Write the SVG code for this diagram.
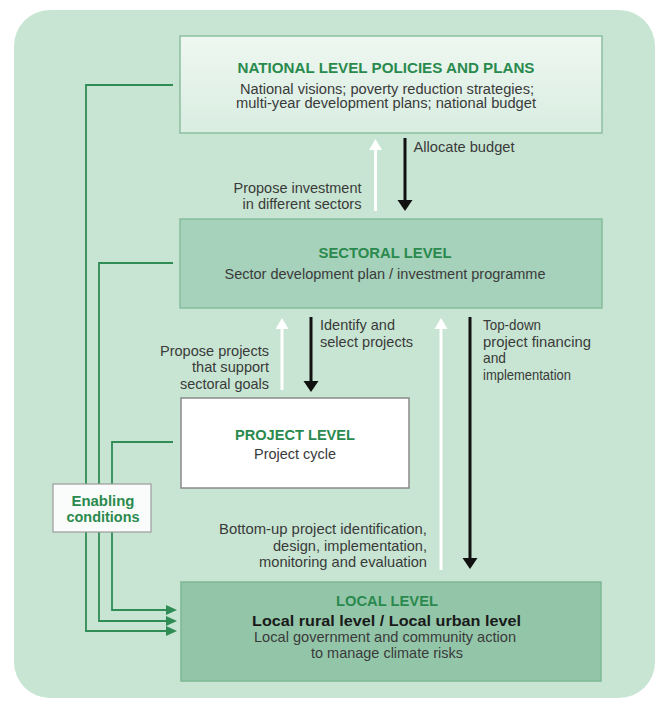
<svg xmlns="http://www.w3.org/2000/svg" width="663" height="704" viewBox="0 0 663 704">
<style>
.t{font-family:"Liberation Sans Narrow","Liberation Sans",Arial,sans-serif;font-size:15px;fill:#3a3a3a}
.s{font-family:"Liberation Sans Narrow","Liberation Sans",Arial,sans-serif;font-size:14px;fill:#3a3a3a}
.h{font-family:"Liberation Sans Narrow","Liberation Sans",Arial,sans-serif;font-size:14.5px;font-weight:bold;fill:#2a8a4e}
.b{font-family:"Liberation Sans Narrow","Liberation Sans",Arial,sans-serif;font-size:15px;font-weight:bold;fill:#1a1a1a}
.g{fill:none;stroke:#2f8c55;stroke-width:1.8}
.w{fill:none;stroke:#ffffff;stroke-width:3}
.k{fill:none;stroke:#111111;stroke-width:3}
</style>
<defs>
<linearGradient id="natg" x1="0" y1="0" x2="0" y2="1">
<stop offset="0" stop-color="#eef7f1"/>
<stop offset="1" stop-color="#d9ede1"/>
</linearGradient>
<marker id="ag" viewBox="0 -5 11 10" refX="2" refY="0" markerWidth="11" markerHeight="10" markerUnits="userSpaceOnUse" orient="auto">
<path d="M0,-5 L11,0 L0,5 z" fill="#2f8c55"/>
</marker>
<marker id="aw" viewBox="0 -7 11 14" refX="2" refY="0" markerWidth="11" markerHeight="14" markerUnits="userSpaceOnUse" orient="auto">
<path d="M0,-6.5 L11,0 L0,6.5 z" fill="#ffffff"/>
</marker>
<marker id="ak" viewBox="0 -8 11 16" refX="2" refY="0" markerWidth="11" markerHeight="16" markerUnits="userSpaceOnUse" orient="auto">
<path d="M0,-7.5 L11,0 L0,7.5 z" fill="#111111"/>
</marker>
</defs>
<rect x="0" y="0" width="663" height="704" fill="#ffffff"/>
<rect id="background" x="14" y="10" width="641" height="688" rx="36" ry="36" fill="#c7e5d2"/>

<g id="connectors">
<path class="g" d="M173,85 H86 V631 H168" marker-end="url(#ag)"/>
<path class="g" d="M173,263 H99 V621 H168" marker-end="url(#ag)"/>
<path class="g" d="M173,442 H112 V610 H168" marker-end="url(#ag)"/>
<path class="w" d="M375.5,211 V148" marker-end="url(#aw)"/>
<path class="k" d="M405,138 V202" marker-end="url(#ak)"/>
<path class="w" d="M282,390 V327" marker-end="url(#aw)"/>
<path class="k" d="M311,317 V383" marker-end="url(#ak)"/>
<path class="w" d="M441,570 V327" marker-end="url(#aw)"/>
<path class="k" d="M470,317 V560" marker-end="url(#ak)"/>
</g>

<g id="labels">
<text class="t" x="413.5" y="151.5" textLength="101" lengthAdjust="spacingAndGlyphs">Allocate budget</text>
<text class="t" x="361.5" y="193" text-anchor="end" textLength="128" lengthAdjust="spacingAndGlyphs">Propose investment</text>
<text class="t" x="361.5" y="208.5" text-anchor="end" textLength="119" lengthAdjust="spacingAndGlyphs">in different sectors</text>
<text class="t" x="320" y="330" textLength="75" lengthAdjust="spacingAndGlyphs">Identify and</text>
<text class="t" x="320" y="346.5" textLength="93" lengthAdjust="spacingAndGlyphs">select projects</text>
<text class="t" x="269" y="356" text-anchor="end" textLength="109" lengthAdjust="spacingAndGlyphs">Propose projects</text>
<text class="t" x="269" y="372" text-anchor="end" textLength="77" lengthAdjust="spacingAndGlyphs">that support</text>
<text class="t" x="269" y="388.5" text-anchor="end" textLength="89" lengthAdjust="spacingAndGlyphs">sectoral goals</text>
<text class="t" x="483" y="330" textLength="58" lengthAdjust="spacingAndGlyphs">Top-down</text>
<text class="t" x="483" y="346.5" textLength="108" lengthAdjust="spacingAndGlyphs">project financing</text>
<text class="t" x="483" y="363" textLength="23" lengthAdjust="spacingAndGlyphs">and</text>
<text class="t" x="483" y="379.5" textLength="88" lengthAdjust="spacingAndGlyphs">implementation</text>
<text class="t" x="427" y="534" text-anchor="end" textLength="208" lengthAdjust="spacingAndGlyphs">Bottom-up project identification,</text>
<text class="t" x="427" y="550.5" text-anchor="end" textLength="154" lengthAdjust="spacingAndGlyphs">design, implementation,</text>
<text class="t" x="427" y="567" text-anchor="end" textLength="168" lengthAdjust="spacingAndGlyphs">monitoring and evaluation</text>
</g>

<g id="national">
<rect x="180" y="36" width="422" height="97" fill="url(#natg)" stroke="#8cbf9f" stroke-width="1.5"/>
<text class="h" x="386" y="72.5" text-anchor="middle" textLength="297" lengthAdjust="spacingAndGlyphs">NATIONAL LEVEL POLICIES AND PLANS</text>
<text class="s" x="387" y="93.5" text-anchor="middle" textLength="294" lengthAdjust="spacingAndGlyphs">National visions; poverty reduction strategies;</text>
<text class="s" x="386" y="108" text-anchor="middle" textLength="300" lengthAdjust="spacingAndGlyphs">multi-year development plans; national budget</text>
</g>

<g id="sectoral">
<rect x="180" y="219" width="422" height="89" fill="#a6d1ba" stroke="#86bd9c" stroke-width="1.5"/>
<text class="h" x="385" y="258" text-anchor="middle" textLength="133" lengthAdjust="spacingAndGlyphs">SECTORAL LEVEL</text>
<text class="t" x="385" y="278.5" text-anchor="middle" textLength="321" lengthAdjust="spacingAndGlyphs">Sector development plan / investment programme</text>
</g>

<g id="project">
<rect x="181" y="398" width="228" height="90" fill="#ffffff" stroke="#8a8a8a" stroke-width="1.5"/>
<text class="h" x="295" y="440" text-anchor="middle" textLength="120" lengthAdjust="spacingAndGlyphs">PROJECT LEVEL</text>
<text class="t" x="295" y="459" text-anchor="middle" textLength="82" lengthAdjust="spacingAndGlyphs">Project cycle</text>
</g>

<g id="enabling">
<rect x="53" y="484" width="98" height="48" fill="#f9fcfa" stroke="#9a9a9a" stroke-width="1.2"/>
<text class="h" x="103" y="506" text-anchor="middle" textLength="63" lengthAdjust="spacingAndGlyphs">Enabling</text>
<text class="h" x="103" y="522" text-anchor="middle" textLength="73" lengthAdjust="spacingAndGlyphs">conditions</text>
</g>

<g id="local">
<rect x="181" y="582" width="420" height="99" fill="#93c6a9" stroke="#7fb795" stroke-width="1.5"/>
<text class="h" x="387" y="606" text-anchor="middle" textLength="102" lengthAdjust="spacingAndGlyphs">LOCAL LEVEL</text>
<text class="b" x="386.5" y="626" text-anchor="middle" textLength="269" lengthAdjust="spacingAndGlyphs">Local rural level / Local urban level</text>
<text class="t" x="385" y="642" text-anchor="middle" textLength="262" lengthAdjust="spacingAndGlyphs">Local government and community action</text>
<text class="t" x="387" y="658" text-anchor="middle" textLength="152" lengthAdjust="spacingAndGlyphs">to manage climate risks</text>
</g>
</svg>
